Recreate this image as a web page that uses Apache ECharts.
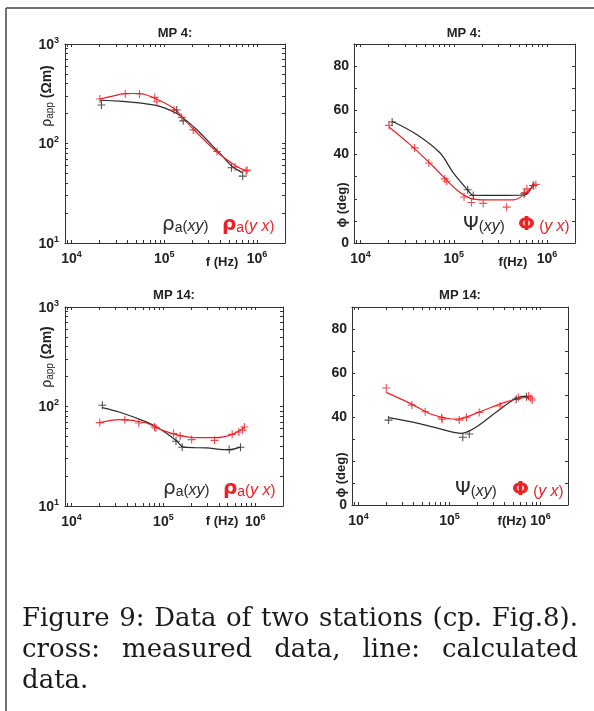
<!DOCTYPE html>
<html><head><meta charset="utf-8">
<script src="https://cdn.jsdelivr.net/npm/echarts@6/dist/echarts.min.js"></script>
<style>html,body{margin:0;padding:0;background:#fff}#c{width:594px;height:711px}</style>
</head><body><div id="c"></div>
<script>
// ---------------- data ----------------
const freqMin = 8500, freqMax = 2e6;
const xMajorTicks = [1e4, 1e5, 1e6];
const xAllTicks = [9e3, 1e4, 2e4, 3e4, 4e4, 5e4, 6e4, 7e4, 8e4, 9e4, 1e5, 2e5, 3e5, 4e5, 5e5, 6e5, 7e5, 8e5, 9e5, 1e6];
const rhoMajorTicks = [10, 100, 1000];
const rhoAllTicks = [10, 20, 30, 40, 50, 60, 70, 80, 90, 100, 200, 300, 400, 500, 600, 700, 800, 900, 1000];
const phiTicks = [0, 10, 20, 30, 40, 50, 60, 70, 80, 90];
const phiLabelTicks = [0, 40, 60, 80];

const panelTitles = ['MP 4:', 'MP 4:', 'MP 14:', 'MP 14:'];

// MP 4 apparent resistivity (Ohm m)
const mp4RhoXYMeasF = [2.1e4, 1.36e5, 1.6e5, 5.3e5, 7.0e5];
const mp4RhoXYMeasV = [244, 217, 169, 57, 47];
const mp4RhoYXMeasF = [2.02e4, 3.8e4, 5.4e4, 7.9e4, 8.3e4, 1.27e5, 1.54e5, 2.05e5, 3.7e5, 5.8e5, 7.6e5, 7.8e5];
const mp4RhoYXMeasV = [280, 314, 314, 291, 263, 217, 183, 137, 83, 58, 53, 54];
const mp4RhoXYCalcF = [2.02e4, 3.3e4, 5e4, 7.6e4, 1e5, 1.36e5, 1.6e5, 2.2e5, 4e5, 5.5e5, 7e5];
const mp4RhoXYCalcV = [272, 267, 258, 244, 228, 200, 180, 140, 79, 58, 51];
const mp4RhoYXCalcF = [2.02e4, 3e4, 3.8e4, 5.4e4, 8e4, 1.27e5, 1.6e5, 2.05e5, 3.7e5, 5.8e5, 7.6e5];
const mp4RhoYXCalcV = [280, 305, 318, 318, 283, 225, 180, 140, 82, 60, 53];

// MP 4 phase (deg)
const mp4PhiXYMeasF = [2.18e4, 1.41e5, 1.62e5, 5.7e5, 7.1e5];
const mp4PhiXYMeasV = [54.7, 24.1, 21.5, 22.3, 26];
const mp4PhiYXMeasF = [2.02e4, 3.8e4, 5.4e4, 8e4, 8.4e4, 1.29e5, 1.55e5, 2.07e5, 3.7e5, 5.8e5, 6.1e5, 7.2e5, 7.6e5];
const mp4PhiYXMeasV = [53.2, 43, 36.2, 29, 27.9, 20.8, 18.3, 17.9, 16.2, 22.8, 24.5, 26, 26.5];
const mp4PhiXYCalcF = [2.18e4, 4e4, 7.1e4, 9.9e4, 1.41e5, 1.62e5, 3e5, 5.7e5, 7.1e5];
const mp4PhiXYCalcV = [55.1, 49.1, 40.8, 31.7, 24, 21.6, 21.5, 21.7, 26.5];
const mp4PhiYXCalcF = [2.02e4, 3.4e4, 6e4, 1.07e5, 1.49e5, 2.07e5, 4.4e5, 5.7e5, 7.4e5];
const mp4PhiYXCalcV = [52.5, 44.5, 34.7, 24.1, 20.3, 19.5, 19.5, 22, 26.8];

// MP 14 apparent resistivity (Ohm m)
const mp14RhoXYMeasF = [2.17e4, 1.37e5, 1.6e5, 5.2e5, 6.9e5];
const mp14RhoXYMeasV = [103, 44.7, 39, 36.9, 39];
const mp14RhoYXMeasF = [2.03e4, 3.8e4, 5.4e4, 8e4, 8.3e4, 1.29e5, 1.52e5, 2.03e5, 3.6e5, 5.6e5, 6.6e5, 7.3e5, 7.6e5];
const mp14RhoYXMeasV = [68.9, 73.8, 68.2, 62.2, 60.8, 53.4, 50.5, 46.5, 45.7, 52.5, 55.5, 57.7, 62.2];
const mp14RhoXYCalcF = [2.17e4, 3.3e4, 6.5e4, 9e4, 1.37e5, 1.68e5, 2.9e5, 5.2e5, 6.9e5];
const mp14RhoXYCalcV = [97.5, 88, 70, 60, 45.7, 39, 38.3, 36.8, 39];
const mp14RhoYXCalcF = [2.03e4, 3.3e4, 6.5e4, 9.8e4, 1.49e5, 2.25e5, 3.7e5, 5.6e5, 7.6e5];
const mp14RhoYXCalcV = [68.9, 73.8, 68.2, 57.5, 51.3, 48.6, 48.6, 52.5, 62];

// MP 14 phase (deg)
const mp14PhiXYMeasF = [2.14e4, 1.4e5, 1.65e5, 5.4e5, 7e5];
const mp14PhiXYMeasV = [38.6, 30.8, 32.3, 48.1, 49.2];
const mp14PhiYXMeasF = [2.02e4, 3.86e4, 5.4e4, 8.2e4, 8.3e4, 1.28e5, 1.54e5, 2.12e5, 3.6e5, 5.7e5, 7.4e5, 7.8e5, 8.1e5];
const mp14PhiYXMeasV = [53.2, 45.4, 42.4, 39.7, 39, 38.6, 39.9, 42.1, 45, 48.9, 49.5, 48.5, 47.7];
const mp14PhiXYCalcF = [2.14e4, 4.4e4, 7.9e4, 1.36e5, 1.99e5, 3.3e5, 5.4e5, 7e5, 7.4e5];
const mp14PhiXYCalcV = [39.7, 37.2, 34.6, 32.6, 35.6, 42.4, 48.5, 49.5, 48];
const mp14PhiYXCalcF = [2.02e4, 3.7e4, 6.7e4, 1.2e5, 2.16e5, 4.2e5, 7.6e5];
const mp14PhiYXCalcV = [51.2, 46.2, 40.9, 39, 42.4, 46.9, 49.2];

const captionLines = [
  ['Figure', '9:', 'Data', 'of', 'two', 'stations', '(cp.', 'Fig.8).'],
  ['cross:', 'measured', 'data,', 'line:', 'calculated'],
  ['data.']
];

// ---------------- styling / layout ----------------
const FF = '"Liberation Sans", Arial, sans-serif';
const BLACK = '#2b2b2b', RED = '#ee2025', AX = '#333';
const grids = [
  {left: 65, top: 44, width: 220, height: 199},
  {left: 354, top: 44, width: 221, height: 199},
  {left: 65, top: 307, width: 218, height: 199},
  {left: 352, top: 307, width: 216, height: 198}
];
const panelKinds = ['rho', 'phi', 'rho', 'phi'];
const pairs = (f, v) => f.map((x, i) => [x, v[i]]);

const powRich = {
  b: {fontSize: 14, fontWeight: 'bold', fontFamily: FF, color: '#222', lineHeight: 16, verticalAlign: 'bottom'},
  s: {fontSize: 9, fontWeight: 'bold', fontFamily: FF, color: '#222', lineHeight: 10, verticalAlign: 'top', padding: [0, 0, 9, 0]}
};
const powFmt = v => '{b|10}{s|' + Math.round(Math.log10(v)) + '}';

const xAxis = [], yAxis = [], series = [];
grids.forEach((g, gi) => {
  const tick = {show: true, inside: true, length: 3, lineStyle: {color: AX, width: 1}};
  const line = {show: true, onZero: false, lineStyle: {color: AX, width: 1}};
  xAxis.push({type: 'log', logBase: 10, gridIndex: gi, min: freqMin, max: freqMax, position: 'bottom',
    axisLine: line, axisTick: Object.assign({customValues: xAllTicks}, tick),
    axisLabel: {customValues: xMajorTicks, formatter: powFmt, rich: powRich, margin: 7},
    splitLine: {show: false}});
  xAxis.push({type: 'log', logBase: 10, gridIndex: gi, min: freqMin, max: freqMax, position: 'top',
    axisLine: line, axisTick: Object.assign({customValues: xAllTicks}, tick),
    axisLabel: {show: false}, splitLine: {show: false}});
  if (panelKinds[gi] === 'rho') {
    yAxis.push({type: 'log', logBase: 10, gridIndex: gi, min: 10, max: 1000, position: 'left',
      axisLine: line, axisTick: Object.assign({customValues: rhoAllTicks}, tick),
      axisLabel: {customValues: rhoMajorTicks, formatter: powFmt, rich: powRich, margin: 6},
      splitLine: {show: false}});
    yAxis.push({type: 'log', logBase: 10, gridIndex: gi, min: 10, max: 1000, position: 'right',
      axisLine: line, axisTick: Object.assign({customValues: rhoAllTicks}, tick),
      axisLabel: {show: false}, splitLine: {show: false}});
  } else {
    yAxis.push({type: 'value', gridIndex: gi, min: 0, max: 90, position: 'left',
      axisLine: line, axisTick: Object.assign({customValues: phiTicks}, tick),
      axisLabel: {customValues: phiLabelTicks, margin: 5, fontSize: 14, fontWeight: 'bold', fontFamily: FF, color: '#222'},
      splitLine: {show: false}});
    yAxis.push({type: 'value', gridIndex: gi, min: 0, max: 90, position: 'right',
      axisLine: line, axisTick: Object.assign({customValues: phiTicks}, tick),
      axisLabel: {show: false}, splitLine: {show: false}});
  }
});

const panelData = [
  [mp4RhoXYCalcF, mp4RhoXYCalcV, mp4RhoYXCalcF, mp4RhoYXCalcV, mp4RhoXYMeasF, mp4RhoXYMeasV, mp4RhoYXMeasF, mp4RhoYXMeasV],
  [mp4PhiXYCalcF, mp4PhiXYCalcV, mp4PhiYXCalcF, mp4PhiYXCalcV, mp4PhiXYMeasF, mp4PhiXYMeasV, mp4PhiYXMeasF, mp4PhiYXMeasV],
  [mp14RhoXYCalcF, mp14RhoXYCalcV, mp14RhoYXCalcF, mp14RhoYXCalcV, mp14RhoXYMeasF, mp14RhoXYMeasV, mp14RhoYXMeasF, mp14RhoYXMeasV],
  [mp14PhiXYCalcF, mp14PhiXYCalcV, mp14PhiYXCalcF, mp14PhiYXCalcV, mp14PhiXYMeasF, mp14PhiXYMeasV, mp14PhiYXMeasF, mp14PhiYXMeasV]
];
const PLUS = 'path://M4.3,0H5.7V4.3H10V5.7H5.7V10H4.3V5.7H0V4.3H4.3Z';
panelData.forEach((d, gi) => {
  const ax = {xAxisIndex: 2 * gi, yAxisIndex: 2 * gi};
  series.push(Object.assign({type: 'line', name: 'xy calc', data: pairs(d[0], d[1]), smooth: 0.35, symbol: 'none',
    lineStyle: {color: BLACK, width: 1.2}, z: 2}, ax));
  series.push(Object.assign({type: 'line', name: 'yx calc', data: pairs(d[2], d[3]), smooth: 0.35, symbol: 'none',
    lineStyle: {color: RED, width: 1.2}, z: 2}, ax));
  series.push(Object.assign({type: 'scatter', name: 'xy meas', data: pairs(d[4], d[5]), symbol: PLUS, symbolSize: 8,
    itemStyle: {color: BLACK}, z: 3}, ax));
  series.push(Object.assign({type: 'scatter', name: 'yx meas', data: pairs(d[6], d[7]), symbol: PLUS, symbolSize: 8,
    itemStyle: {color: RED}, z: 3}, ax));
});

// ---------------- text graphics ----------------
const graphic = [];
// frame
graphic.push({type: 'line', shape: {x1: 6, y1: 8, x2: 6, y2: 711}, style: {stroke: '#444', lineWidth: 1.5}});
graphic.push({type: 'line', shape: {x1: 6, y1: 8, x2: 594, y2: 8}, style: {stroke: '#444', lineWidth: 1.5}});

const titlePos = [[175, 33], [464, 33], [174, 295], [460, 295]];
panelTitles.forEach((t, i) => graphic.push({type: 'text', x: titlePos[i][0], y: titlePos[i][1],
  style: {text: t, align: 'center', verticalAlign: 'middle', font: 'bold 13px ' + FF, fill: '#222'}}));

const rhoLabelRich = {
  r: {fontSize: 14, fontFamily: FF, fill: '#222'},
  s: {fontSize: 10, fontFamily: FF, fill: '#222', verticalAlign: 'bottom', padding: [6, 0, 0, 0]},
  n: {fontSize: 14, fontWeight: 'bold', fontFamily: FF, fill: '#222'}
};
[[47, 96], [47, 357]].forEach(p => graphic.push({type: 'text', x: p[0], y: p[1], rotation: Math.PI / 2,
  style: {text: '{r|ρ}{s|app}{n| (Ωm)}', rich: rhoLabelRich, align: 'center', verticalAlign: 'middle'}}));
[[342, 205], [341, 475]].forEach(p => graphic.push({type: 'text', x: p[0], y: p[1], rotation: Math.PI / 2,
  style: {text: 'ϕ (deg)', align: 'center', verticalAlign: 'middle', font: 'bold 13px ' + FF, fill: '#222'}}));
[[222, 262, 'f (Hz)'], [513, 262, 'f(Hz)'], [222, 521, 'f (Hz)'], [512, 521, 'f(Hz)']].forEach(p =>
  graphic.push({type: 'text', x: p[0], y: p[1], style: {text: p[2], align: 'center', verticalAlign: 'middle',
    font: 'bold 13px ' + FF, fill: '#222'}}));

function legRich(col, bold) {
  return {
    g: {fontSize: 20, fontFamily: '"DejaVu Sans", sans-serif', fontWeight: bold ? 'bold' : 'normal', fill: col},
    a: {fontSize: 14, fontFamily: FF, fill: col, verticalAlign: 'bottom'},
    p: {fontSize: 15, fontFamily: FF, fill: col, padding: [4, 0, 0, 0]},
    i: {fontSize: 16, fontFamily: FF, fontStyle: 'italic', fill: col, padding: [4, 0, 0, 0]}
  };
}
const legends = [
  [162, 225, '{g|ρ}{a|a}{p|(}{i|xy}{p|)}', BLACK, false],
  [222, 225, '{g|ρ}{a|a}{p|(}{i|y x}{p|)}', RED, true],
  [463, 225, '{g|Ψ}{p|(}{i|xy}{p|)}', BLACK, false],
  [518, 225, '{g|Φ}{p| (}{i|y x}{p|)}', RED, true],
  [163, 489, '{g|ρ}{a|a}{p|(}{i|xy}{p|)}', BLACK, false],
  [223, 489, '{g|ρ}{a|a}{p|(}{i|y x}{p|)}', RED, true],
  [455, 490, '{g|Ψ}{p|(}{i|xy}{p|)}', BLACK, false],
  [512, 490, '{g|Φ}{p| (}{i|y x}{p|)}', RED, true]
];
legends.forEach(l => graphic.push({type: 'text', x: l[0], y: l[1],
  style: {text: l[2], rich: legRich(l[3], l[4]), align: 'left', verticalAlign: 'middle', fill: l[3]}}));

// caption (justified paragraph)
const capFont = '26px "DejaVu Serif", "Liberation Serif", serif';
const meas = document.createElement('canvas').getContext('2d');
meas.font = capFont;
const capLeft = 22, capRight = 578, capBase = [632, 663, 694];
captionLines.forEach((words, li) => {
  const widths = words.map(w => meas.measureText(w).width);
  const total = widths.reduce((a, b) => a + b, 0);
  const justify = li < captionLines.length - 1 && words.length > 1;
  const gap = justify ? (capRight - capLeft - total) / (words.length - 1) : meas.measureText(' ').width;
  let x = capLeft;
  words.forEach((w, wi) => {
    graphic.push({type: 'text', x: x, y: capBase[li], style: {text: w, font: capFont, fill: '#1a1a1a',
      align: 'left', verticalAlign: 'bottom'}});
    x += widths[wi] + gap;
  });
});

const chart = echarts.init(document.getElementById('c'), null, {renderer: 'canvas'});
chart.setOption({
  animation: false,
  backgroundColor: '#fff',
  grid: grids.map(g => Object.assign({containLabel: false}, g)),
  xAxis, yAxis, series, graphic
});
</script></body></html>
